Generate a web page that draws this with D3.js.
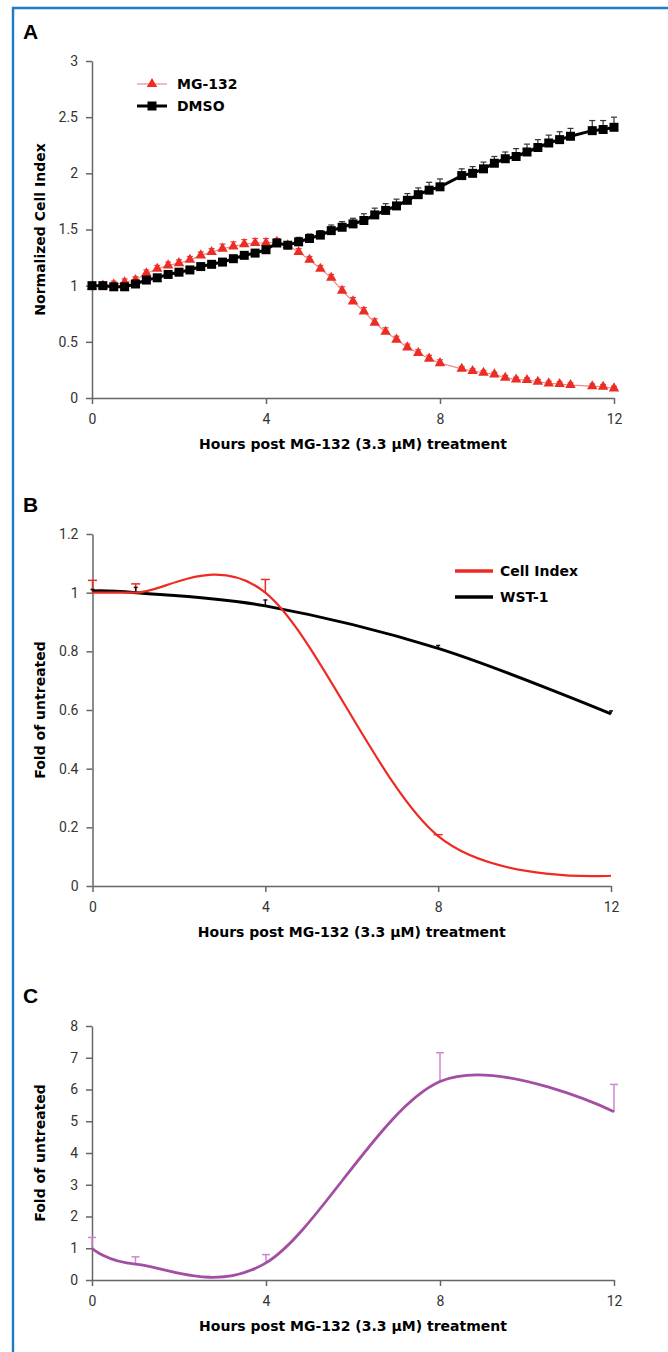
<!DOCTYPE html>
<html>
<head>
<meta charset="utf-8">
<script src="https://cdn.jsdelivr.net/npm/d3@7"></script>
<style>
body{margin:0;background:#fff}
svg{display:block}
.tick text{font-family:Roboto,"Liberation Sans",sans-serif;font-size:14px;fill:#333}
.ttl{font-family:"DejaVu Sans",sans-serif;font-weight:bold;font-size:14px;fill:#000}
.letter{font-family:"Liberation Sans",Arial,sans-serif;font-weight:bold;font-size:21px;fill:#000}
</style>
</head>
<body>
<div id="chart"></div>
<script>
// shared
const xTicks = [0, 4, 8, 12];
const xTitle = "Hours post MG-132 (3.3 µM) treatment";

// Panel A: real-time cell index
const hoursA = [0,0.25,0.5,0.75,1,1.25,1.5,1.75,2,2.25,2.5,2.75,3,3.25,3.5,3.75,4,4.25,4.5,4.75,5,5.25,5.5,5.75,6,6.25,6.5,6.75,7,7.25,7.5,7.75,8,8.5,8.75,9,9.25,9.5,9.75,10,10.25,10.5,10.75,11,11.5,11.75,12];
const mg132 = [0.99,1.00,1.01,1.03,1.05,1.11,1.15,1.18,1.20,1.23,1.27,1.30,1.33,1.35,1.37,1.38,1.38,1.39,1.36,1.30,1.23,1.15,1.07,0.955,0.86,0.77,0.67,0.59,0.52,0.45,0.40,0.35,0.31,0.26,0.24,0.225,0.21,0.18,0.165,0.16,0.145,0.13,0.125,0.115,0.105,0.10,0.085];
const mg132Err = [0.03,0.03,0.03,0.03,0.03,0.03,0.03,0.03,0.03,0.03,0.03,0.03,0.04,0.04,0.04,0.04,0.04,0.03,0.03,0.03,0.03,0.03,0.03,0.035,0.035,0.035,0.035,0.035,0.03,0.03,0.03,0.03,0.03,0.02,0.02,0.02,0.02,0.02,0.02,0.02,0.02,0.02,0.02,0.02,0.02,0.02,0.02];
const dmso = [1.00,1.00,0.99,0.99,1.015,1.05,1.07,1.10,1.12,1.14,1.17,1.19,1.21,1.24,1.27,1.29,1.32,1.38,1.36,1.39,1.42,1.45,1.49,1.52,1.55,1.58,1.63,1.67,1.71,1.76,1.81,1.85,1.88,1.98,2.00,2.04,2.09,2.13,2.15,2.19,2.23,2.27,2.30,2.33,2.38,2.39,2.41];
const dmsoErr = [0.02,0.02,0.02,0.02,0.02,0.02,0.02,0.02,0.02,0.02,0.02,0.02,0.02,0.02,0.02,0.02,0.02,0.03,0.03,0.04,0.04,0.04,0.05,0.05,0.05,0.06,0.06,0.06,0.06,0.06,0.06,0.07,0.07,0.06,0.06,0.06,0.06,0.06,0.07,0.07,0.07,0.07,0.07,0.07,0.09,0.08,0.09];
const yTicksA = [0, 0.5, 1, 1.5, 2, 2.5, 3];

// Panel B: cell index vs WST-1
const hoursB = [0, 1, 4, 8, 12];
const cellIndexB = [1.0, 1.0, 1.0, 0.17, 0.035];
const cellIndexErrB = [0.042, 0.03, 0.045, 0.005, 0];
const wst1B = [1.006, 1.0, 0.955, 0.81, 0.587];
const wst1ErrB = [0.005, 0.018, 0.02, 0.01, 0.01];
const yTicksB = [0, 0.2, 0.4, 0.6, 0.8, 1, 1.2];

// Panel C
const hoursC = [0, 1, 4, 8, 12];
const foldC = [1.0, 0.5, 0.54, 6.25, 5.3];
const foldErrC = [0.34, 0.23, 0.26, 0.91, 0.86];
const yTicksC = [0, 1, 2, 3, 4, 5, 6, 7, 8];

const svg = d3.select("#chart").append("svg")
  .attr("width", 668)
  .attr("height", 1352);

// blue frame
svg.append("path")
  .attr("d", "M13,1352V8H668")
  .attr("fill", "none")
  .attr("stroke", "#1f7cc4")
  .attr("stroke-width", 2.4);

function panel(p) {
  const g = svg.append("g");
  const x = d3.scaleLinear().domain([0, 12]).range(p.xr);
  const y = d3.scaleLinear().domain(p.yd).range(p.yr);

  const ax = g.append("g")
    .attr("transform", `translate(0,${p.yr[0]})`)
    .call(d3.axisBottom(x).tickValues(xTicks).tickSize(6).tickPadding(10).tickSizeOuter(0).tickFormat(d => String(d)));
  const ay = g.append("g")
    .attr("transform", `translate(${p.xr[0]},0)`)
    .call(d3.axisLeft(y).tickValues(p.ticks).tickSize(6).tickPadding(8).tickSizeOuter(0).tickFormat(d => String(d)));
  [ax, ay].forEach(a => {
    a.attr("font-family", null).attr("font-size", null);
    a.selectAll("path, line").attr("stroke", "#666").attr("stroke-width", 1.5);
  });

  g.append("text").attr("class", "ttl")
    .attr("x", (p.xr[0] + p.xr[1]) / 2)
    .attr("y", p.yr[0] + 51)
    .attr("text-anchor", "middle")
    .text(xTitle);
  g.append("text").attr("class", "ttl")
    .attr("transform", `translate(45,${(p.yr[0] + p.yr[1]) / 2}) rotate(-90)`)
    .attr("text-anchor", "middle")
    .text(p.ytitle);
  g.append("text").attr("class", "letter")
    .attr("x", 23).attr("y", p.letterY)
    .text(p.letter);
  return {g, x, y};
}

function errBars(g, x, y, xs, vals, errs, color, cap, width) {
  const eg = g.append("g").attr("stroke", color).attr("stroke-width", width).attr("fill", "none");
  vals.forEach((v, i) => {
    if (!errs[i]) return;
    const cx = x(xs[i]);
    eg.append("line").attr("x1", cx).attr("x2", cx).attr("y1", y(v)).attr("y2", y(v + errs[i]));
    eg.append("line").attr("x1", cx - cap / 2).attr("x2", cx + cap / 2).attr("y1", y(v + errs[i])).attr("y2", y(v + errs[i]));
  });
}

// ---------- A ----------
const A = panel({xr: [92, 614], yd: [0, 3], yr: [398, 61], ticks: yTicksA,
  ytitle: "Normalized Cell Index", letter: "A", letterY: 39});

errBars(A.g, A.x, A.y, hoursA, mg132, mg132Err, "#e9453e", 6, 1.2);
errBars(A.g, A.x, A.y, hoursA, dmso, dmsoErr, "#333", 6, 1.2);

const lineA = d3.line().x((d, i) => A.x(hoursA[i])).y(d => A.y(d));
A.g.append("path").datum(mg132).attr("d", lineA)
  .attr("fill", "none").attr("stroke", "#f28a84").attr("stroke-width", 1.2);
A.g.append("g").selectAll("path").data(mg132).join("path")
  .attr("transform", (d, i) => `translate(${A.x(hoursA[i])},${A.y(d)})`)
  .attr("d", d3.symbol(d3.symbolTriangle, 48))
  .attr("fill", "#ec2d25");

A.g.append("path").datum(dmso).attr("d", lineA)
  .attr("fill", "none").attr("stroke", "#000").attr("stroke-width", 3);
A.g.append("g").selectAll("path").data(dmso).join("path")
  .attr("transform", (d, i) => `translate(${A.x(hoursA[i])},${A.y(d)})`)
  .attr("d", d3.symbol(d3.symbolSquare, 81))
  .attr("fill", "#000");

// legend A
const legA = A.g.append("g");
[{name: "MG-132", y: 84, line: "#f28a84", lw: 1.2, sym: d3.symbolTriangle, size: 48, fill: "#ec2d25"},
 {name: "DMSO", y: 106, line: "#000", lw: 3, sym: d3.symbolSquare, size: 81, fill: "#000"}].forEach(l => {
  legA.append("line").attr("x1", 137).attr("x2", 167).attr("y1", l.y).attr("y2", l.y)
    .attr("stroke", l.line).attr("stroke-width", l.lw);
  legA.append("path").attr("transform", `translate(152,${l.y})`)
    .attr("d", d3.symbol(l.sym, l.size)).attr("fill", l.fill);
  legA.append("text").attr("class", "ttl").attr("x", 177).attr("y", l.y + 5).text(l.name);
});

// ---------- B ----------
const B = panel({xr: [92.5, 611], yd: [0, 1.2], yr: [886, 534], ticks: yTicksB,
  ytitle: "Fold of untreated", letter: "B", letterY: 512});

const lineB = d3.line().curve(d3.curveCardinal.tension(0))
  .x((d, i) => B.x(hoursB[i])).y(d => B.y(d));
errBars(B.g, B.x, B.y, hoursB, cellIndexB, cellIndexErrB, "#ee2a24", 9, 1.5);
errBars(B.g, B.x, B.y, hoursB, wst1B, wst1ErrB, "#111", 4, 1.5);
B.g.append("path").datum(wst1B).attr("d", lineB)
  .attr("fill", "none").attr("stroke", "#000").attr("stroke-width", 3);
B.g.append("path").datum(cellIndexB).attr("d", lineB)
  .attr("fill", "none").attr("stroke", "#ee2a24").attr("stroke-width", 2.2);

const legB = B.g.append("g");
[{name: "Cell Index", y: 571, c: "#ee2a24"}, {name: "WST-1", y: 597, c: "#000"}].forEach(l => {
  legB.append("line").attr("x1", 455).attr("x2", 493).attr("y1", l.y).attr("y2", l.y)
    .attr("stroke", l.c).attr("stroke-width", 3.5);
  legB.append("text").attr("class", "ttl").attr("x", 500).attr("y", l.y + 5).text(l.name);
});

// ---------- C ----------
const C = panel({xr: [92, 614], yd: [0, 8], yr: [1280, 1026], ticks: yTicksC,
  ytitle: "Fold of untreated", letter: "C", letterY: 1003});

const lineC = d3.line().curve(d3.curveCardinal.tension(0))
  .x((d, i) => C.x(hoursC[i])).y(d => C.y(d));
errBars(C.g, C.x, C.y, hoursC, foldC, foldErrC, "#cc88cc", 8, 1.5);
C.g.append("path").datum(foldC).attr("d", lineC)
  .attr("fill", "none").attr("stroke", "#a24fa3").attr("stroke-width", 2.8);
</script>
</body>
</html>
